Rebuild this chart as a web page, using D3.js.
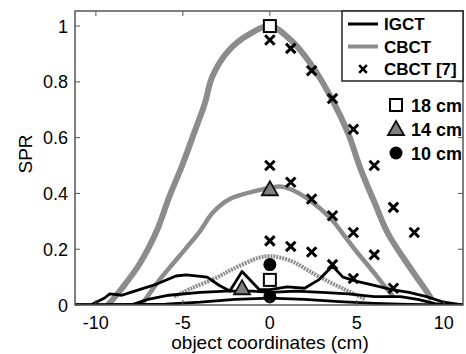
<!DOCTYPE html>
<html>
<head>
<meta charset="utf-8">
<script src="https://cdn.jsdelivr.net/npm/d3@7"></script>
<style>
  body { margin: 0; background: #fff; }
  svg { display: block; font-family: Arial, "Liberation Sans", sans-serif; }
</style>
</head>
<body>
<svg id="chart" width="466" height="354"></svg>
<script>
// CBCT (grey) scatter-to-primary profiles
const cbct18X = [-9.3, -8.5, -7.5, -6.5, -5.8, -5.0, -4.3, -3.75, -3.3, -2.4, -1.2, 0, 1.2, 2.4, 3.6, 4.5, 5.2, 6.0, 6.8, 8.1, 9.0, 9.3];
const cbct18Y = [0, 0.06, 0.146, 0.266, 0.385, 0.507, 0.626, 0.72, 0.82, 0.91, 0.97, 1.0, 0.95, 0.86, 0.734, 0.615, 0.49, 0.37, 0.255, 0.13, 0.05, 0.02];
const cbct14X = [-7.4, -7.1, -6.4, -5.6, -4.8, -4.0, -3.3, -2.3, -0.75, 0, 0.6, 1.2, 2.3, 3.5, 4.2, 5.0, 5.8, 6.5, 7.1];
const cbct14Y = [0, 0.025, 0.086, 0.146, 0.205, 0.266, 0.33, 0.38, 0.41, 0.42, 0.425, 0.415, 0.375, 0.31, 0.255, 0.19, 0.13, 0.075, 0.03];
const cbct10X = [-5.5, -4.5, -3.1, -2.1, -0.6, 0, 0.6, 1.5, 2.3, 3.5, 4.5, 5.5];
const cbct10Y = [0.03, 0.06, 0.097, 0.13, 0.17, 0.175, 0.17, 0.15, 0.12, 0.08, 0.05, 0.02];

// IGCT (black) profiles
const igct18X = [-11.2, -10.3, -9.5, -9.2, -8.5, -8.0, -7.5, -6.5, -5.4, -4.8, -3.6, -2.9, -2.3, -1.6, -0.6, 0, 1.0, 2.0, 2.8, 3.6, 4.2, 5.0, 6.0, 7.0, 8.0, 9.0, 10.0, 11.1];
const igct18Y = [0, 0, 0.025, 0.04, 0.035, 0.045, 0.055, 0.075, 0.104, 0.108, 0.1, 0.07, 0.05, 0.12, 0.055, 0.055, 0.065, 0.06, 0.09, 0.14, 0.1, 0.085, 0.07, 0.055, 0.045, 0.03, 0.01, 0];
const igct14X = [-11.2, -8.0, -7.0, -5.8, -4.0, -2.5, -1.0, 0, 1.5, 3.0, 4.5, 6.0, 7.5, 8.5, 9.5, 10.5, 11.1];
const igct14Y = [0, 0, 0.02, 0.035, 0.045, 0.05, 0.05, 0.045, 0.05, 0.045, 0.04, 0.03, 0.03, 0.02, 0.005, 0, 0];
const igct10X = [-11.2, -6.0, -4.0, -2.0, 0, 2.0, 4.0, 6.0, 8.0, 10.0, 11.1];
const igct10Y = [0, 0.003, 0.01, 0.02, 0.025, 0.02, 0.012, 0.006, 0.002, 0, 0];

// CBCT [7] reference values
const ref18X = [0, 1.2, 2.4, 3.6, 4.8, 6.0, 7.1, 8.3];
const ref18Y = [0.95, 0.92, 0.84, 0.74, 0.63, 0.50, 0.35, 0.26];
const ref14X = [0, 1.2, 2.4, 3.6, 4.8, 6.0];
const ref14Y = [0.50, 0.44, 0.38, 0.32, 0.26, 0.18];
const ref10X = [0, 1.2, 2.4, 3.6, 4.8, 7.1];
const ref10Y = [0.23, 0.21, 0.19, 0.145, 0.095, 0.06];

// peak markers per phantom size
const squareX = [0, 0];
const squareY = [1.0, 0.09];
const triangleX = [0, -1.6];
const triangleY = [0.415, 0.06];
const circleX = [0, 0];
const circleY = [0.145, 0.03];

const xTicks = [-10, -5, 0, 5, 10];
const yTicks = [0, 0.2, 0.4, 0.6, 0.8, 1];
const yTickLabels = ['0', '0.2', '0.4', '0.6', '0.8', '1'];

const margin = { left: 75, top: 11, right: 3, bottom: 49 };
const width = 466, height = 354;

const svg = d3.select('#chart');

const x = d3.scaleLinear().domain([-11.2, 11.1]).range([margin.left, width - margin.right]);
const y = d3.scaleLinear().domain([0, 1.054]).range([height - margin.bottom, margin.top]);

const gray = '#8c8c8c';
const frame = '#555';

svg.append('defs').append('clipPath').attr('id', 'plot-clip')
  .append('rect')
  .attr('x', x.range()[0]).attr('y', y.range()[1])
  .attr('width', x.range()[1] - x.range()[0])
  .attr('height', y.range()[0] - y.range()[1]);

const plot = svg.append('g').attr('clip-path', 'url(#plot-clip)');

const line = d3.line().x((d) => x(d[0])).y((d) => y(d[1]));
const smooth = d3.line().x((d) => x(d[0])).y((d) => y(d[1])).curve(d3.curveCatmullRom.alpha(0.5));
const zip = (xs, ys) => xs.map((v, i) => [v, ys[i]]);

// grey CBCT bands
[[cbct18X, cbct18Y, 6, null], [cbct14X, cbct14Y, 4.5, null], [cbct10X, cbct10Y, 4, '2,1']].forEach(([xs, ys, w, dash]) => {
  plot.append('path')
    .datum(zip(xs, ys))
    .attr('d', smooth)
    .attr('fill', 'none')
    .attr('stroke', gray)
    .attr('stroke-width', w)
    .attr('stroke-linejoin', 'round')
    .attr('stroke-dasharray', dash);
});

// black IGCT lines
[[igct10X, igct10Y], [igct14X, igct14Y], [igct18X, igct18Y]].forEach(([xs, ys]) => {
  plot.append('path')
    .datum(zip(xs, ys))
    .attr('d', line)
    .attr('fill', 'none')
    .attr('stroke', '#000')
    .attr('stroke-width', 2.8)
    .attr('stroke-linejoin', 'round');
});

// CBCT [7] crosses
const cross = d3.symbol().type(d3.symbolX).size(60);
[[ref18X, ref18Y], [ref14X, ref14Y], [ref10X, ref10Y]].forEach(([xs, ys]) => {
  plot.append('g').selectAll('path')
    .data(zip(xs, ys))
    .enter()
    .append('path')
    .attr('transform', (d) => `translate(${x(d[0])},${y(d[1])})`)
    .attr('d', cross)
    .attr('stroke', '#000')
    .attr('stroke-width', 3);
});

// size markers
function drawMarker(g, kind, cx, cy) {
  if (kind === 'square') {
    g.append('rect').attr('x', cx - 6).attr('y', cy - 6).attr('width', 12).attr('height', 12)
      .attr('fill', '#fff').attr('stroke', '#000').attr('stroke-width', 2);
  } else if (kind === 'triangle') {
    g.append('path')
      .attr('d', `M${cx},${cy - 8} L${cx + 8},${cy + 6} L${cx - 8},${cy + 6} Z`)
      .attr('fill', '#808080').attr('stroke', '#111').attr('stroke-width', 1.8);
  } else {
    g.append('circle').attr('cx', cx).attr('cy', cy).attr('r', 6.5).attr('fill', '#000');
  }
}
zip(circleX, circleY).forEach((d) => drawMarker(plot, 'circle', x(d[0]), y(d[1])));
zip(squareX, squareY).forEach((d) => drawMarker(plot, 'square', x(d[0]), y(d[1])));
zip(triangleX, triangleY).forEach((d) => drawMarker(plot, 'triangle', x(d[0]), y(d[1])));

// frame and ticks
svg.append('rect')
  .attr('x', x.range()[0]).attr('y', y.range()[1])
  .attr('width', x.range()[1] - x.range()[0])
  .attr('height', y.range()[0] - y.range()[1])
  .attr('fill', 'none').attr('stroke', frame).attr('stroke-width', 1.5);

const tickLen = 5;
const axes = svg.append('g').attr('stroke', frame).attr('stroke-width', 1);
xTicks.forEach((t) => {
  axes.append('line').attr('x1', x(t)).attr('x2', x(t)).attr('y1', y.range()[0]).attr('y2', y.range()[0] - tickLen);
  axes.append('line').attr('x1', x(t)).attr('x2', x(t)).attr('y1', y.range()[1]).attr('y2', y.range()[1] + tickLen);
});
yTicks.forEach((t) => {
  axes.append('line').attr('x1', x.range()[0]).attr('x2', x.range()[0] + tickLen).attr('y1', y(t)).attr('y2', y(t));
  axes.append('line').attr('x1', x.range()[1]).attr('x2', x.range()[1] - tickLen).attr('y1', y(t)).attr('y2', y(t));
});

svg.append('g').selectAll('text')
  .data(xTicks)
  .enter()
  .append('text')
  .attr('x', (d) => x(d))
  .attr('y', 329)
  .attr('text-anchor', 'middle')
  .attr('font-size', 18)
  .text((d) => String(d));

svg.append('g').selectAll('text')
  .data(yTicks)
  .enter()
  .append('text')
  .attr('x', 68)
  .attr('y', (d) => y(d) + 6.5)
  .attr('text-anchor', 'end')
  .attr('font-size', 18)
  .text((d, i) => yTickLabels[i]);

svg.append('text')
  .attr('x', 270).attr('y', 349)
  .attr('text-anchor', 'middle')
  .attr('font-size', 19)
  .text('object coordinates (cm)');

svg.append('text')
  .attr('transform', 'translate(32,154) rotate(-90)')
  .attr('text-anchor', 'middle')
  .attr('font-size', 19)
  .text('SPR');

// legend box
const legend = svg.append('g');
legend.append('rect')
  .attr('x', 342).attr('y', 11).attr('width', 121).attr('height', 70)
  .attr('fill', '#fff').attr('stroke', '#222').attr('stroke-width', 1.5);

const legendItems = [
  { label: 'IGCT', kind: 'line', color: '#000', w: 3 },
  { label: 'CBCT', kind: 'line', color: gray, w: 4 },
  { label: 'CBCT [7]', kind: 'cross' },
];
legendItems.forEach((item, i) => {
  const ly = 24 + i * 22.5;
  if (item.kind === 'line') {
    legend.append('line').attr('x1', 348).attr('x2', 378).attr('y1', ly).attr('y2', ly)
      .attr('stroke', item.color).attr('stroke-width', item.w);
  } else {
    legend.append('path').attr('transform', `translate(363,${ly})`)
      .attr('d', d3.symbol().type(d3.symbolX).size(40))
      .attr('stroke', '#000').attr('stroke-width', 2.5);
  }
  legend.append('text')
    .attr('x', 384).attr('y', ly + 6)
    .attr('font-size', 17).attr('font-weight', 'bold')
    .text(item.label);
});

const sizeItems = [
  { label: '18 cm', kind: 'square' },
  { label: '14 cm', kind: 'triangle' },
  { label: '10 cm', kind: 'circle' },
];
sizeItems.forEach((item, i) => {
  const ly = 105 + i * 24;
  drawMarker(legend, item.kind, 396, ly);
  legend.append('text')
    .attr('x', 411).attr('y', ly + 6.5)
    .attr('font-size', 18).attr('font-weight', 'bold')
    .text(item.label);
});
</script>
</body>
</html>
